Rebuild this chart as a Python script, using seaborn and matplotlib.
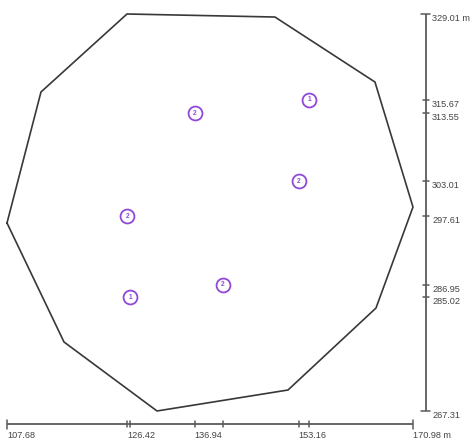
import matplotlib
matplotlib.use("Agg")
import matplotlib.pyplot as plt
import seaborn as sns
import pandas as pd

# Boundary polygon (metres)
boundary_x = [107.68, 112.98, 126.39, 149.46, 165.05, 170.98, 165.21, 151.49, 131.07, 116.57]
boundary_y = [296.53, 316.89, 329.01, 328.54, 318.44, 299.01, 283.31, 270.57, 267.31, 278.03]

# Sample points and their counts
point_x = [154.77, 136.94, 153.16, 126.42, 141.36, 126.90]
point_y = [315.67, 313.55, 303.01, 297.61, 286.95, 285.02]
point_n = [1, 2, 2, 2, 2, 1]

sns.set_theme(style="white")
plt.rcParams["font.family"] = ["Liberation Sans", "DejaVu Sans"]

fig = plt.figure(figsize=(4.77, 4.40), dpi=100)
ax = fig.add_axes([0, 0, 1, 1])
ax.set_xlim(106.589, 180.96)
ax.set_ylim(262.80, 331.186)
ax.axis("off")

# boundary outline
px = boundary_x + boundary_x[:1]
py = boundary_y + boundary_y[:1]
ax.plot(px, py, color="#383838", lw=1.2, solid_joinstyle="miter", zorder=2)

# points
purple = "#9148d8"
df = pd.DataFrame({"x": point_x, "y": point_y, "n": point_n})
sns.scatterplot(data=df, x="x", y="y", ax=ax, s=100, marker="o",
                facecolor="white", edgecolor=purple, linewidth=1.3, zorder=3,
                legend=False)
for x, y, n in zip(point_x, point_y, point_n):
    ax.text(x, y, str(n), color=purple, fontsize=4.8, fontweight="bold",
            ha="center", va="center", zorder=4)

axis_col = "#5a5a5a"
text_col = "#444444"

# bottom scale (x in data, y in axes fraction)
bt = ax.get_xaxis_transform()
y_axis_frac = 1 - 424 / 440
xmin, xmax = min(boundary_x), max(boundary_x)
ax.plot([xmin, xmax], [y_axis_frac, y_axis_frac], transform=bt,
        color=axis_col, lw=1.3, solid_capstyle="butt")
xticks = sorted(set([xmin, xmax] + point_x))
last_label = None
for v in xticks:
    end = v in (xmin, xmax)
    h = 4.5 / 440 if end else 3.0 / 440
    ax.plot([v, v], [y_axis_frac - h, y_axis_frac + h], transform=bt,
            color=axis_col, lw=1.1)
    if last_label is None or v - last_label > 4.8:
        label = f"{v:.2f}" + (" m" if v == xmax else "")
        ax.text(v, y_axis_frac - 7 / 440, label, transform=bt, ha="left",
                va="top", fontsize=6.6, color=text_col)
        last_label = v

# right scale (x in axes fraction, y in data)
rt = ax.get_yaxis_transform()
x_axis_frac = 426 / 477
ymin, ymax = min(boundary_y), max(boundary_y)
ax.plot([x_axis_frac, x_axis_frac], [ymin, ymax], transform=rt,
        color=axis_col, lw=1.3, solid_capstyle="butt")
yticks = sorted(set([ymin, ymax] + point_y), reverse=True)
for v in yticks:
    end = v in (ymin, ymax)
    w = 4.5 / 477 if end else 3.0 / 477
    ax.plot([x_axis_frac - w, x_axis_frac + w], [v, v], transform=rt,
            color=axis_col, lw=1.1)
    label = f"{v:.2f}" + (" m" if v == ymax else "")
    ax.text(x_axis_frac + 6 / 477, v, label, transform=rt, ha="left",
            va="top", fontsize=6.6, color=text_col)

fig.savefig("out.png", dpi=100, facecolor="white")
